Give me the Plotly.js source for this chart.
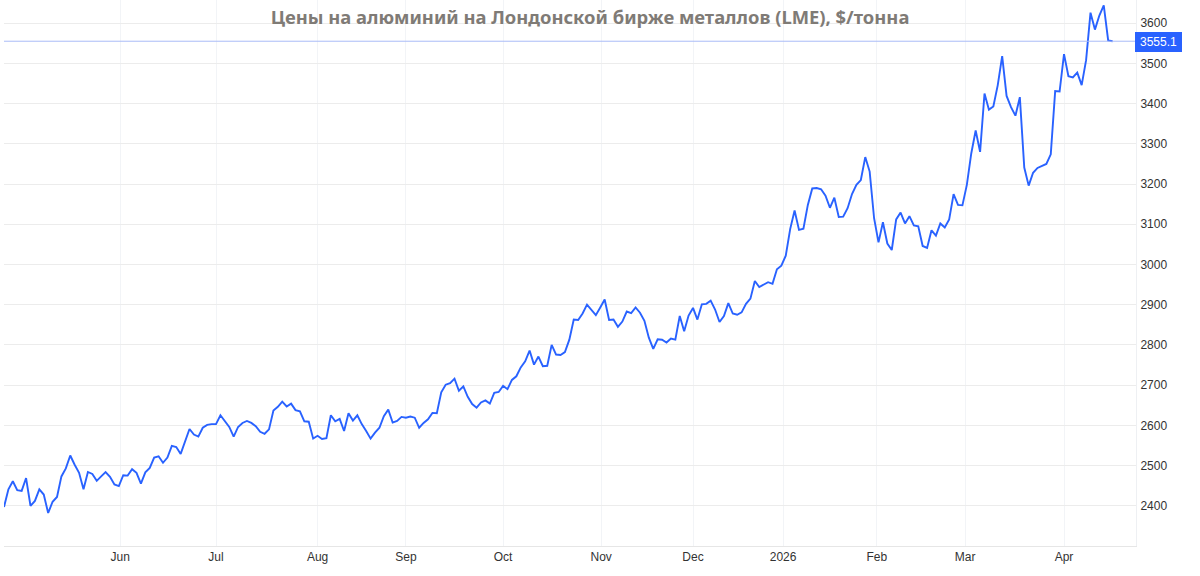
<!DOCTYPE html>
<html>
<head>
<meta charset="utf-8">
<script src="https://cdn.plot.ly/plotly-3.0.1.min.js"></script>
<style>html,body{margin:0;padding:0;background:#fff}#c{width:1200px;height:576px}</style>
</head>
<body>
<div id="c"></div>
<script>
const titleText = "Цены на алюминий на Лондонской бирже металлов (LME), $/тонна";
const prices = [
2397,2441,2461,2439,2437,2469,2400,2412,2441,2428,2382,2410,2422,2473,2493,2525,2502,2482,2441,2484,2479,2462,2473,2484,2472,2453,2449,2476,2475,2491,2482,2455,2483,2494,2520,2523,2507,2520,2549,2546,2529,2559,
2591,2577,2572,2594,2601,2603,2603,2625,2609,2596,2572,2596,2606,2611,2606,2598,2584,2579,2590,2637,2646,2659,2647,2654,2638,2635,2610,2609,2567,2574,2566,2568,2625,2610,2616,2586,2630,2612,2625,2603,2586,2567,2582,2594,2623,2639,2607,2611,
2621,2619,2622,2619,2594,2606,2615,2631,2630,2682,2701,2705,2716,2686,2697,2671,2653,2644,2657,2662,2654,2681,2683,2698,2690,2713,2722,2744,2759,2786,2751,2771,2747,2748,2800,2776,2775,2782,2813,
2863,2862,2878,2900,2886,2874,2893,2913,2862,2863,2845,2858,2883,2879,2893,2880,2860,2818,2790,2814,2813,2806,2816,2813,2872,2834,2873,2892,2863,2901,2902,2910,2888,2857,2872,2904,2878,2875,2881,2902,2915,2959,2944,
2949,2956,2952,2988,2997,3022,3088,3134,3086,3089,3148,3189,3190,3187,3171,3141,3166,3118,3119,3140,3175,3198,3210,3267,3231,3115,3055,3105,3052,3036,3112,3129,3102,3120,3097,3095,3046,3041,3085,3072,3102,3092,3112,
3175,3148,3147,3198,3276,3333,3280,3425,3385,3393,3446,3518,3419,3391,3370,3416,3241,3196,3228,3240,3246,3250,3274,3431,3430,3523,3468,3465,3477,3446,3508,3626,3584,3619,3644,3557,3555.1
];
const monthLabels = ["Jun","Jul","Aug","Sep","Oct","Nov","Dec","2026","Feb","Mar","Apr"];
const monthIndex = [26.3,48,71,91,113,135.2,156,176.4,197.6,217.6,240];
const priceTicks = [2400,2500,2600,2700,2800,2900,3000,3100,3200,3300,3400,3500,3600];
const dayIndex = prices.map((_, i) => i);
const lastPrice = prices[prices.length - 1];
const blue = "#2962ff";

Plotly.newPlot("c", [{
  x: dayIndex, y: prices, type: "scatter", mode: "lines",
  line: {color: blue, width: 1.9, shape: "linear"}, hoverinfo: "skip", cliponaxis: true
}], {
  width: 1200, height: 576,
  margin: {l: 4, r: 64, t: 0, b: 30.4, pad: 0},
  paper_bgcolor: "#fff", plot_bgcolor: "#fff",
  showlegend: false,
  title: {text: titleText, x: 590/1200, xref: "container", xanchor: "center",
          y: 1 - 18/576, yref: "container", yanchor: "middle",
          font: {family: "Noto Sans, sans-serif", size: 18.4, weight: 700, color: "#7f7b76"}},
  font: {family: "Liberation Sans, Arial, sans-serif", size: 12, color: "#333"},
  xaxis: {
    range: [0, 256.3], tickmode: "array", tickvals: monthIndex, ticktext: monthLabels,
    showgrid: true, gridcolor: "#f2f4f7", gridwidth: 1, zeroline: false,
    showline: true, linecolor: "#e6e6e6", linewidth: 1,
    ticks: "", tickangle: 0,
    tickfont: {family: "Liberation Sans, Arial, sans-serif", size: 12, color: "#333"}
  },
  yaxis: {
    side: "right", range: [2300, 3657.6], tickmode: "array", tickvals: priceTicks,
    showgrid: true, gridcolor: "#ececec", gridwidth: 1, zeroline: false,
    showline: true, linecolor: "#eef0f3", linewidth: 1, mirror: false,
    ticks: "outside", ticklen: 1, tickcolor: "rgba(0,0,0,0)",
    tickfont: {family: "Liberation Sans, Arial, sans-serif", size: 12, color: "#333"}
  },
  shapes: [{type: "line", xref: "paper", x0: 0, x1: 1, yref: "y", y0: lastPrice, y1: lastPrice,
            line: {color: "#a9bcf7", width: 1}}],
  annotations: [{xref: "paper", x: 1, xanchor: "left", yref: "y", y: lastPrice, yanchor: "middle",
                 text: String(lastPrice), showarrow: false, width: 47, height: 20, align: "center",
                 yshift: -1, xshift: -1,
                 bgcolor: blue, borderpad: 0, borderwidth: 0,
                 font: {family: "Liberation Sans, Arial, sans-serif", size: 12, color: "#fff"}}]
}, {staticPlot: true, displayModeBar: false});
</script>
</body>
</html>
